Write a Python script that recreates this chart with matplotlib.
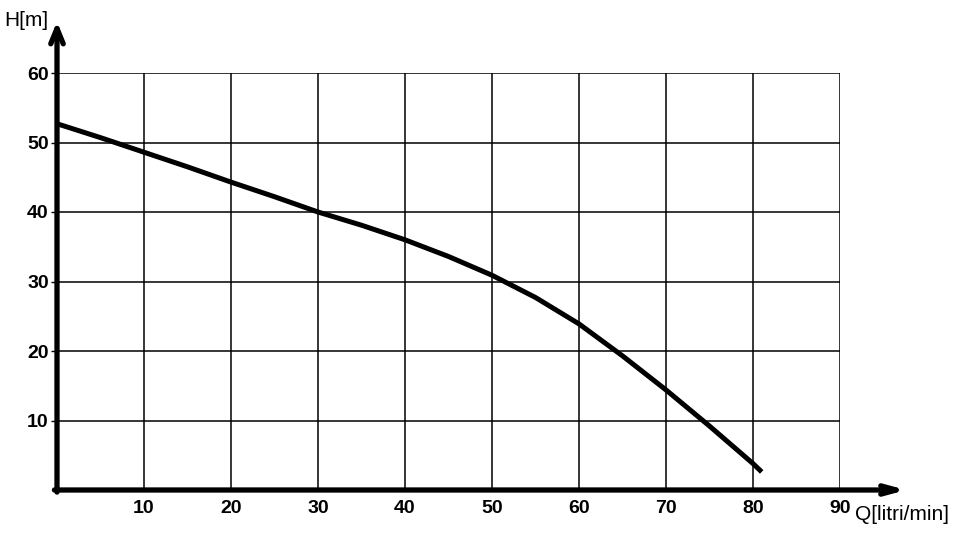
import matplotlib
matplotlib.use("Agg")
import matplotlib.pyplot as plt

# Data
flow_q = [0, 5, 10, 15, 20, 25, 30, 35, 40, 45, 50, 55, 60, 65, 70, 75, 80, 81]
head_h = [52.7, 50.7, 48.6, 46.5, 44.3, 42.2, 40.0, 38.1, 36.0, 33.6, 30.9, 27.7,
          23.9, 19.3, 14.4, 9.2, 3.8, 2.6]
x_ticks = [10, 20, 30, 40, 50, 60, 70, 80, 90]
y_ticks = [10, 20, 30, 40, 50, 60]
x_label = "Q[litri/min]"
y_label = "H[m]"

plt.rcParams['font.family'] = ['Liberation Sans', 'DejaVu Sans']

W, H = 976, 536
fig = plt.figure(figsize=(W / 100, H / 100), dpi=100)
x0, x1 = 57, 840
y0, y1 = 490, 73
ax = fig.add_axes([x0 / W, 1 - y0 / H, (x1 - x0) / W, (y0 - y1) / H])
ax.set_xlim(0, 90)
ax.set_ylim(0, 60)

# grid
for xv in x_ticks:
    ax.axvline(xv, color='black', lw=1.1, zorder=1)
for yv in y_ticks:
    ax.axhline(yv, color='black', lw=1.1, zorder=1)

for s in ['top', 'right', 'left', 'bottom']:
    ax.spines[s].set_visible(False)

# curve
ax.plot(flow_q, head_h, color='black', lw=3.6, solid_capstyle='butt',
        solid_joinstyle='round', zorder=3)

# axes with arrows
ax.annotate('', xy=(0, 67.4), xytext=(0, -0.3), xycoords='data',
            arrowprops=dict(arrowstyle='->,head_length=1.1,head_width=0.45',
                            lw=3.8, color='black', shrinkA=0, shrinkB=0),
            annotation_clip=False, zorder=4)
ax.annotate('', xy=(97.6, 0), xytext=(-0.3, 0), xycoords='data',
            arrowprops=dict(arrowstyle='->,head_length=1.1,head_width=0.3',
                            lw=3.8, color='black', shrinkA=0, shrinkB=0),
            annotation_clip=False, zorder=4)

ax.set_xticks(x_ticks)
ax.set_yticks(y_ticks)
ax.set_xticklabels([str(v) for v in x_ticks], fontsize=14, fontweight='bold')
ax.set_yticklabels([str(v) for v in y_ticks], fontsize=14, fontweight='bold')
ax.tick_params(axis='x', length=0, pad=7)
ax.tick_params(axis='y', length=4, width=1, pad=2)

fig.text(4 / W, 1 - 20 / H, y_label, fontsize=15, ha='left', va='center')
fig.text(855 / W, 1 - 514 / H, x_label, fontsize=15, ha='left', va='center')

fig.savefig('out.png', dpi=100, facecolor='white')
